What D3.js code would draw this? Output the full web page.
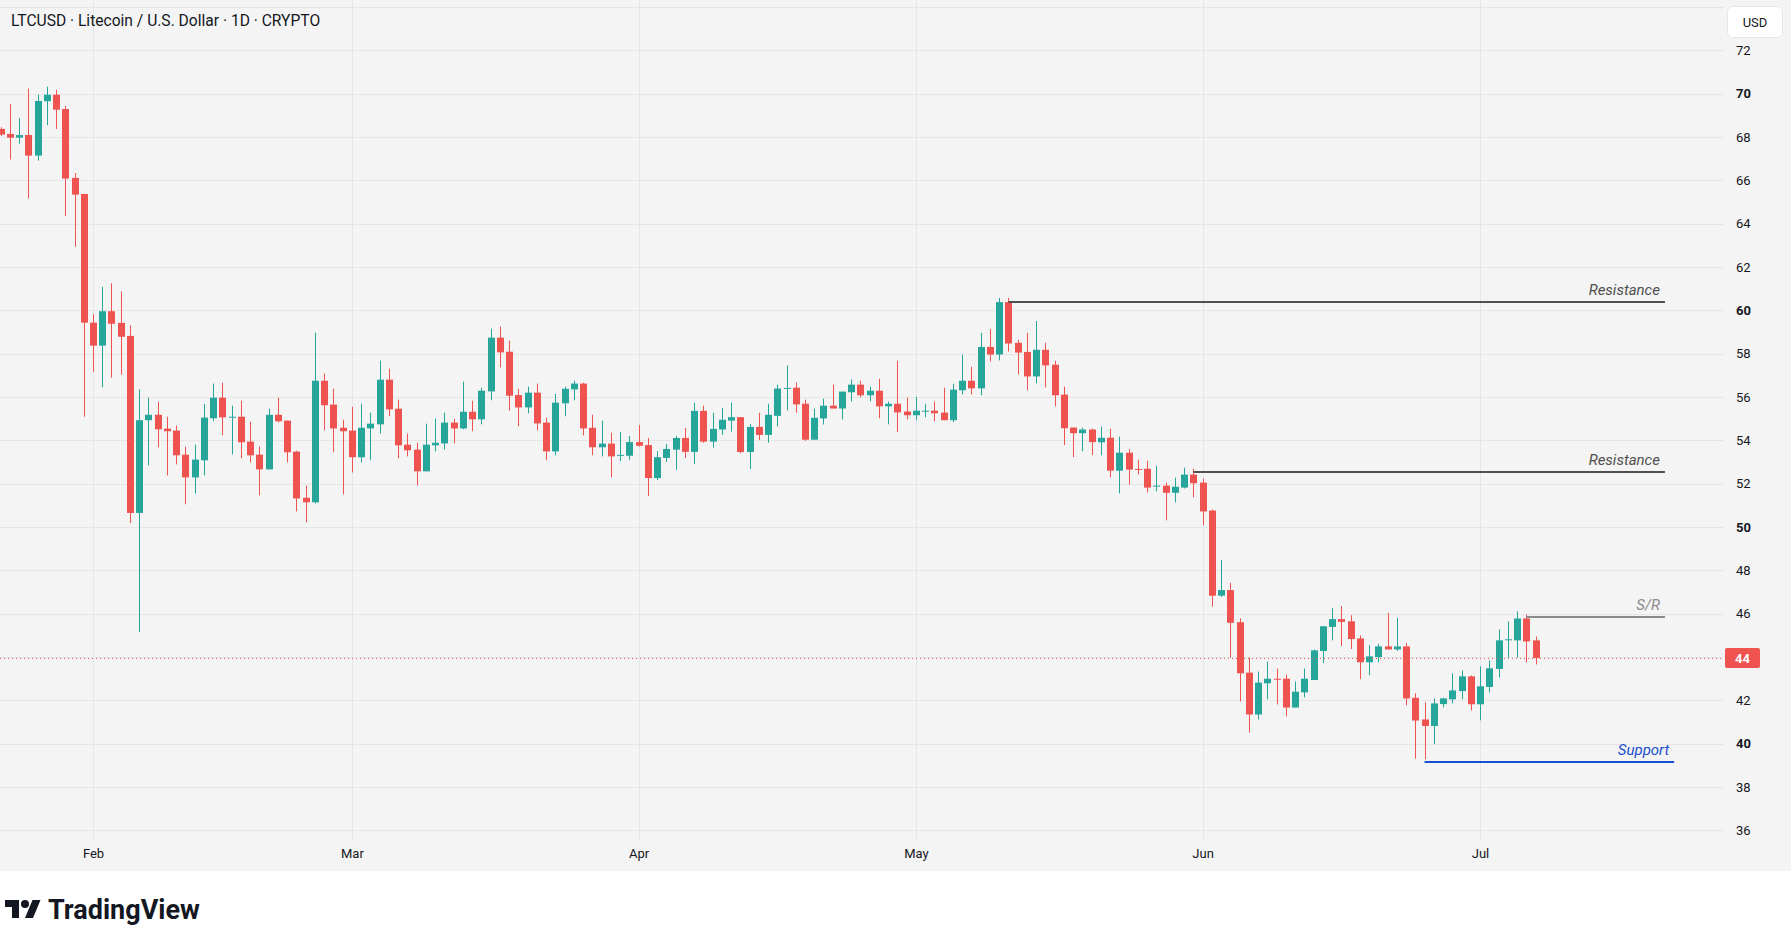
<!DOCTYPE html>
<html>
<head>
<meta charset="utf-8">
<script src="https://cdn.jsdelivr.net/npm/d3@7"></script>
<style>
  html, body { margin: 0; padding: 0; background: #ffffff; }
  svg { display: block; }
  text { font-family: Roboto, "Liberation Sans", Arial, sans-serif; }
</style>
</head>
<body>
<svg id="chart"></svg>
<script>
// daily candles, Jan 22 -> Jul 7
const opens = [
  68.37, 68.14, 67.97, 68.09, 67.14, 69.65, 69.95, 69.29, 66.11, 65.37,
  59.43, 58.37, 59.96, 59.42, 58.82, 50.65, 54.93, 55.18, 54.54, 54.45, 53.34, 52.29, 53.08, 55.02, 55.97, 55.06, 55.09, 53.94, 53.34, 52.66, 55.18, 54.91, 53.48, 51.35, 51.14, 56.75, 55.65, 54.58,
  54.45, 53.22, 54.55, 54.74, 56.8, 55.46, 53.8, 53.57, 52.57, 53.77, 53.86, 54.82, 54.55, 55.32, 54.97, 56.26, 58.74, 58.09, 56.09, 55.52, 56.2, 54.82, 53.49, 55.71, 56.35, 56.62, 54.58, 53.68, 53.85, 53.30, 53.29,
  53.92, 53.78, 52.26, 53.19, 53.57, 54.11, 53.47, 55.36, 53.94, 54.5, 54.91, 55.07, 53.46, 54.62, 54.25, 55.13, 56.39, 56.43, 55.69, 54.03, 55.01, 55.6, 55.47, 56.22, 56.57, 56.08, 56.29, 55.57, 55.69, 55.33,
  55.16, 55.34, 55.37, 55.28, 54.93, 56.31, 56.75, 56.4, 58.31, 57.96, 60.38, 58.5, 58.08, 56.95, 58.18, 57.49, 56.11, 54.59, 54.33, 54.5, 53.91, 54.12, 52.6, 53.43, 52.68, 52.69, 51.88, 51.91, 51.58, 51.82, 52.42,
  52.05, 50.76, 46.83, 47.09, 45.61, 43.28, 41.35, 42.79, 43.0, 43.0, 41.67, 42.37, 42.94, 44.28, 45.39, 45.75, 45.65, 44.86, 43.76, 44.0, 44.49, 44.35, 44.49, 42.12, 41.12, 40.82, 41.83, 42.05, 42.43, 43.11,
  41.82, 42.62, 43.45, 44.78, 44.77, 45.78, 44.77
]
const highs = [
  68.45, 69.52, 68.87, 70.23, 69.96, 70.32, 70.18, 69.43, 66.34, 65.37,
  59.82, 61.08, 61.25, 60.88, 59.31, 56.36, 55.97, 55.78, 55.09, 54.68, 53.71, 53.8, 55.68, 56.62, 56.66, 55.6, 55.83, 54.86, 53.71, 55.46, 55.97, 54.91, 53.52, 51.91, 58.97, 57.08, 56.38, 54.95,
  55.55, 55.69, 55.28, 57.68, 57.31, 55.88, 54.31, 53.89, 54.77, 55.0, 55.28, 55.0, 56.71, 55.83, 56.43, 59.15, 59.25, 58.6, 56.38, 56.48, 56.62, 55.05, 56.15, 56.48, 56.75, 56.66, 55.18, 54.91, 54.35, 54.39, 54.2,
  54.71, 54.11, 53.5, 53.83, 54.2, 54.57, 55.74, 55.6, 55.27, 55.5, 55.74, 55.07, 54.76, 55.27, 55.69, 56.57, 57.46, 56.67, 55.88, 55.46, 55.92, 56.57, 56.25, 56.81, 56.75, 56.48, 56.84, 55.79, 57.67, 55.97,
  56.01, 55.69, 55.79, 56.43, 56.61, 57.95, 57.39, 58.96, 59.14, 60.57, 60.57, 58.64, 58.96, 59.51, 58.5, 57.67, 56.48, 54.59, 54.59, 54.54, 54.63, 54.54, 54.17, 53.6, 53.11, 53.06, 52.83, 52.05, 52.28, 52.74, 52.69,
  52.23, 50.81, 48.49, 47.42, 45.79, 43.97, 43.33, 43.79, 43.47, 43.19, 42.87, 43.47, 44.35, 45.42, 46.26, 46.35, 45.93, 45.0, 44.55, 44.6, 46.04, 45.81, 44.65, 42.33, 41.91, 42.09, 42.12, 43.25, 43.38, 43.15,
  43.57, 43.85, 45.28, 45.65, 46.11, 45.97, 44.95
]
const lows = [
  68.05, 66.96, 67.69, 65.16, 66.91, 68.55, 68.37, 64.35, 62.93, 55.09,
  57.16, 56.45, 56.89, 57.03, 50.18, 45.16, 52.85, 53.68, 52.38, 52.89, 51.05, 51.55, 52.38, 54.88, 54.23, 53.35, 53.17, 52.98, 51.46, 52.66, 54.83, 52.98, 50.72, 50.22, 51.09, 54.46, 53.45, 51.51,
  52.52, 52.98, 53.08, 54.32, 55.11, 53.17, 53.26, 51.92, 52.57, 53.49, 53.58, 53.86, 54.51, 54.42, 54.74, 55.85, 57.37, 55.37, 54.65, 55.25, 54.46, 53.08, 53.31, 55.11, 55.85, 54.23, 53.31, 53.26, 52.29, 53.05, 53.1,
  53.71, 51.43, 52.17, 53.0, 52.64, 53.19, 52.91, 53.89, 53.66, 54.25, 54.4, 53.41, 52.68, 54.02, 53.89, 54.64, 55.38, 55.27, 53.98, 54.03, 54.73, 55.47, 54.96, 55.8, 55.98, 55.8, 55.02, 54.74, 54.38, 54.97,
  54.93, 55.07, 54.88, 54.93, 54.84, 56.12, 56.12, 56.08, 57.64, 57.69, 58.1, 57.04, 56.31, 56.63, 56.44, 55.57, 53.78, 53.23, 53.5, 53.32, 53.31, 52.29, 51.55, 51.95, 52.43, 51.6, 51.65, 50.31, 51.14, 51.78, 51.37,
  50.08, 46.32, 46.78, 43.97, 41.95, 40.51, 41.12, 42.05, 41.81, 41.26, 41.67, 42.14, 42.94, 43.72, 44.77, 44.51, 44.37, 42.98, 43.16, 43.76, 44.35, 44.28, 41.77, 39.31, 39.28, 39.98, 41.68, 41.86, 42.05, 41.54,
  41.08, 42.37, 43.06, 43.97, 43.97, 43.75, 43.66
]
const closes = [
  68.11, 67.97, 68.09, 67.14, 69.66, 69.95, 69.26, 66.08, 65.34, 59.43,
  58.37, 59.96, 59.38, 58.78, 50.65, 54.93, 55.18, 54.51, 54.42, 53.31, 52.29, 53.11, 55.05, 55.97, 55.06, 55.09, 53.91, 53.31, 52.66, 55.18, 54.88, 53.45, 51.32, 51.14, 56.75, 55.62, 54.55, 54.42,
  53.22, 54.58, 54.77, 56.8, 55.43, 53.77, 53.54, 52.57, 53.8, 53.89, 54.82, 54.55, 55.32, 54.97, 56.29, 58.74, 58.06, 56.06, 55.52, 56.2, 54.78, 53.49, 55.74, 56.38, 56.62, 54.55, 53.68, 53.85, 53.26, 53.33, 53.92,
  53.75, 52.26, 53.22, 53.6, 54.11, 53.47, 55.36, 53.94, 54.53, 54.95, 55.07, 53.46, 54.62, 54.25, 55.18, 56.39, 56.42, 55.66, 54.03, 55.04, 55.6, 55.47, 56.25, 56.57, 56.08, 56.29, 55.57, 55.69, 55.29, 55.16,
  55.37, 55.37, 55.25, 54.93, 56.34, 56.75, 56.4, 58.31, 57.96, 60.38, 58.47, 58.05, 56.95, 58.18, 57.46, 56.08, 54.56, 54.33, 54.5, 53.92, 54.12, 52.6, 53.43, 52.65, 52.66, 51.82, 51.91, 51.58, 51.86, 52.42, 52.02,
  50.72, 46.83, 47.09, 45.58, 43.25, 41.35, 42.82, 43.0, 42.98, 41.67, 42.4, 43.0, 44.31, 45.42, 45.75, 45.62, 44.83, 43.76, 44.03, 44.49, 44.35, 44.49, 42.09, 41.07, 40.82, 41.86, 42.09, 42.46, 43.11, 41.82,
  42.65, 43.48, 44.77, 44.82, 45.78, 44.72, 43.95
]

// price axis ticks
const priceTicks = d3.range(36, 73, 2)
const gridPrices = d3.range(36, 75, 2)

// drawn levels
const levelNames = ["Resistance", "Resistance", "S/R", "Support"]
const levelPrices = [60.4, 52.52, 45.85, 39.15]
const levelFrom = ["2025-05-11", "2025-05-31", "2025-07-06", "2025-06-25"]
const levelTo = ["2025-07-21", "2025-07-21", "2025-07-21", "2025-07-22"]
const levelColors = ["#505050", "#505050", "#8a8a8a", "#1a4fd0"]

const width = 1791
const height = 947
const plotW = 1724
const plotH = 840
const paneH = 871

const green = "#26a69a"
const red = "#ef5350"

const days = d3.utcDay.range(new Date(Date.UTC(2025, 0, 22)), new Date(Date.UTC(2025, 6, 8)))
const data = days.map((d, i) => ({date: d, o: opens[i], h: highs[i], l: lows[i], c: closes[i]}))

const svg = d3.select("#chart").attr("width", width).attr("height", height)

// backgrounds
svg.append("rect").attr("width", width).attr("height", height).attr("fill", "#ffffff")
svg.append("rect").attr("width", width).attr("height", paneH).attr("fill", "#f4f4f4")

//scales
const x = d3.scaleUtc()
    .domain([new Date(Date.UTC(2025, 1, 1)), new Date(Date.UTC(2025, 6, 7))])
    .range([93, 1535.5])
const y = d3.scaleLinear().domain([36, 72]).range([830.4, 50.3])

svg.append("clipPath").attr("id", "plotclip")
    .append("rect").attr("width", plotW).attr("height", plotH)

const plot = svg.append("g").attr("clip-path", "url(#plotclip)")

// grid
plot.selectAll(".hgrid").data(gridPrices).enter().append("line")
    .attr("x1", 0).attr("x2", plotW)
    .attr("y1", d => Math.round(y(d)) + 0.5).attr("y2", d => Math.round(y(d)) + 0.5)
    .attr("stroke", "#e6e6e6").attr("stroke-width", 1)

const months = d3.utcMonth.range(new Date(Date.UTC(2025, 1, 1)), new Date(Date.UTC(2025, 6, 2)))
plot.selectAll(".vgrid").data(months).enter().append("line")
    .attr("x1", d => Math.round(x(d)) + 0.5).attr("x2", d => Math.round(x(d)) + 0.5)
    .attr("y1", 0).attr("y2", plotH)
    .attr("stroke", "#e6e6e6").attr("stroke-width", 1)

// candles
const candle = plot.selectAll(".candle").data(data).enter().append("g")
    .attr("class", "candle")
    .attr("fill", d => d.c >= d.o ? green : red)

candle.append("rect")
    .attr("x", d => Math.round(x(d.date)))
    .attr("width", 1)
    .attr("y", d => y(d.h))
    .attr("height", d => y(d.l) - y(d.h))

candle.append("rect")
    .attr("x", d => Math.round(x(d.date)) - 3)
    .attr("width", 7)
    .attr("y", d => y(Math.max(d.o, d.c)))
    .attr("height", d => Math.max(1, Math.abs(y(d.o) - y(d.c))))

// last price line
const last = data[data.length - 1]
const lastY = Math.round(y(last.c)) + 0.5
plot.append("line")
    .attr("x1", 0).attr("x2", plotW).attr("y1", lastY).attr("y2", lastY)
    .attr("stroke", red).attr("stroke-width", 1).attr("stroke-dasharray", "1,3")

// levels
const parse = d3.utcParse("%Y-%m-%d")
levelNames.forEach((name, i) => {
    const ly = Math.round(y(levelPrices[i]))
    const x2 = x(parse(levelTo[i]))
    plot.append("line")
        .attr("x1", x(parse(levelFrom[i]))).attr("x2", x2)
        .attr("y1", ly).attr("y2", ly)
        .attr("stroke", levelColors[i]).attr("stroke-width", 2)
    plot.append("text")
        .attr("x", x2 - 5).attr("y", ly - 7)
        .attr("text-anchor", "end")
        .attr("font-style", "italic")
        .attr("font-size", 15)
        .attr("fill", levelColors[i])
        .text(name)
})

// price axis
const yAxis = svg.append("g")
    .attr("transform", `translate(${plotW + 6},0)`)
    .call(d3.axisRight(y).tickValues(priceTicks).tickSize(0).tickPadding(6).tickFormat(d3.format("d")))
yAxis.select(".domain").remove()
yAxis.selectAll("text")
    .attr("font-size", 13)
    .attr("font-family", "Roboto, 'Liberation Sans', Arial, sans-serif")
    .attr("fill", "#131722")
    .attr("font-weight", d => d % 10 === 0 ? 700 : 400)

// last price badge
svg.append("rect")
    .attr("x", plotW + 1).attr("y", lastY - 10.5).attr("width", 35).attr("height", 20).attr("rx", 2)
    .attr("fill", red)
svg.append("text")
    .attr("x", plotW + 18.5).attr("y", lastY).attr("dy", "0.35em")
    .attr("text-anchor", "middle").attr("font-size", 13).attr("font-weight", 700)
    .attr("fill", "#ffffff")
    .text(d3.format(".0f")(last.c))

// currency box
svg.append("rect")
    .attr("x", 1727.5).attr("y", 6.5).attr("width", 55).attr("height", 31).attr("rx", 5)
    .attr("fill", "#ffffff").attr("stroke", "#e6e6e6")
svg.append("text")
    .attr("x", 1755).attr("y", 22).attr("dy", "0.35em")
    .attr("text-anchor", "middle").attr("font-size", 13).attr("fill", "#131722")
    .text("USD")

// time axis
const xAxis = svg.append("g")
    .attr("transform", `translate(0,${plotH})`)
    .call(d3.axisBottom(x).tickValues(months).tickSize(0).tickPadding(9).tickFormat(d3.utcFormat("%b")))
xAxis.select(".domain").remove()
xAxis.selectAll("text")
    .attr("font-size", 13)
    .attr("font-family", "Roboto, 'Liberation Sans', Arial, sans-serif")
    .attr("fill", "#131722")

// title
svg.append("text")
    .attr("x", 11).attr("y", 26)
    .attr("font-size", 15.6).attr("fill", "#131722")
    .text("LTCUSD · Litecoin / U.S. Dollar · 1D · CRYPTO")

// TradingView logo
const logo = svg.append("g").attr("transform", "translate(5,896)").attr("fill", "#131722")
logo.append("path").attr("d", "M14 22H7V11H0V4h14v18zM28 22h-8l7.5-18h8L28 22z")
logo.append("circle").attr("cx", 20).attr("cy", 8).attr("r", 4)
svg.append("text")
    .attr("x", 48).attr("y", 919)
    .attr("font-size", 27).attr("font-weight", 700).attr("fill", "#131722")
    .text("TradingView")
</script>
</body>
</html>
